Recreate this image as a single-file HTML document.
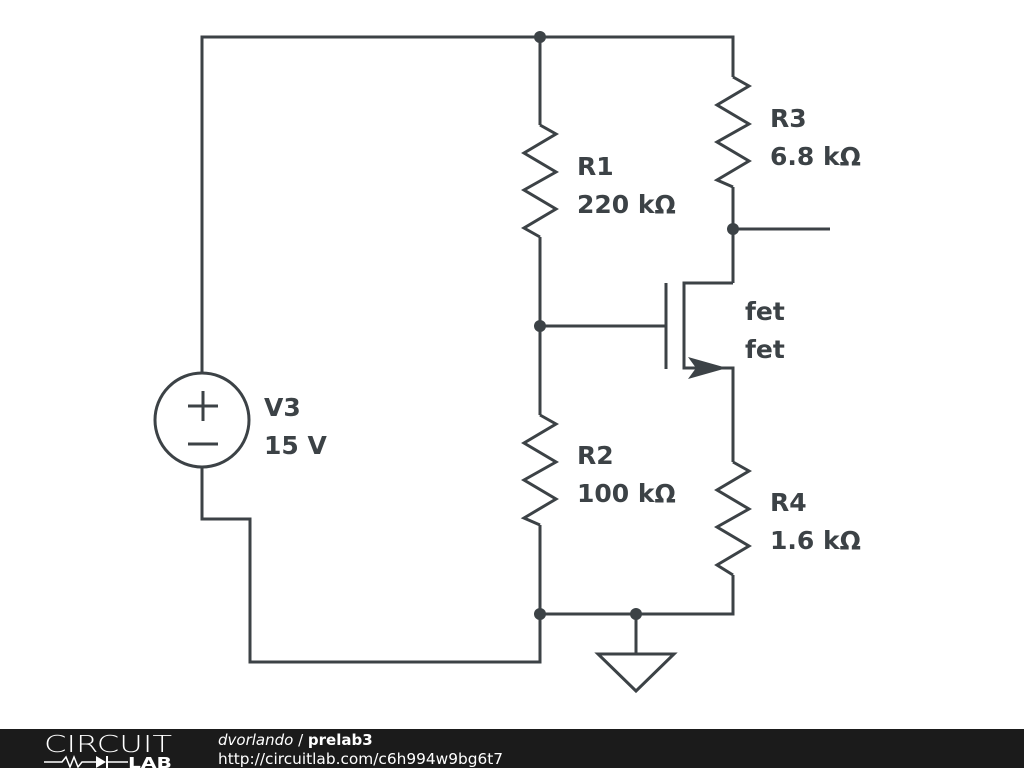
<!DOCTYPE html>
<html><head><style>
body{margin:0;width:1024px;height:768px;background:#fff;overflow:hidden;position:relative;font-family:"DejaVu Sans",sans-serif}
.l{position:absolute;font-weight:bold;font-size:25px;color:#3c4246;line-height:38px;font-family:"DejaVu Sans",sans-serif}
</style></head><body>
<svg width="1024" height="768" style="position:absolute;left:0;top:0">
<g stroke="#3c4246" stroke-width="3" fill="none" stroke-linejoin="miter">
<polyline points="202,373 202,37 733,37 733,77"/>
<polyline points="202,467 202,519 250,519 250,662 540,662 540,525"/>
<line x1="540" y1="37" x2="540" y2="125"/>
<polyline points="540,125 556,134 524,153 556,172 524,190 556,209 524,228 540,237"/>
<line x1="540" y1="237" x2="540" y2="415"/>
<polyline points="540,415 556,424 524,443 556,462 524,480 556,499 524,518 540,525"/>
<polyline points="733,77 749,86 717,105 749,124 717,142 749,161 717,180 733,187"/>
<line x1="733" y1="187" x2="733" y2="283"/>
<line x1="733" y1="229" x2="830" y2="229"/>
<polyline points="733,283 684,283 684,368 733,368 733,462"/>
<line x1="666" y1="283" x2="666" y2="369"/>
<line x1="540" y1="326" x2="666" y2="326"/>
<polyline points="733,462 749,471 717,490 749,509 717,527 749,546 717,565 733,575"/>
<polyline points="733,575 733,614 540,614"/>
<line x1="636" y1="614" x2="636" y2="654"/>
<polygon points="598,654 674,654 636,691"/>
<circle cx="202" cy="420" r="47"/>
<line x1="188" y1="406" x2="218" y2="406"/><line x1="203" y1="391" x2="203" y2="421"/>
<line x1="188" y1="444" x2="218" y2="444"/>
</g>
<polygon points="688,357 727,368 688,379 696,368" fill="#3c4246"/>
<g fill="#3c4246"><circle cx="540" cy="37" r="6"/><circle cx="540" cy="326" r="6"/><circle cx="733" cy="229" r="6"/><circle cx="540" cy="614" r="6"/><circle cx="636" cy="614" r="6"/></g>
<rect x="0" y="729" width="1024" height="39" fill="#1b1b1b"/>
<text x="44" y="752" fill="#fff" font-family="DejaVu Sans" font-weight="200" font-size="23" textLength="128" lengthAdjust="spacingAndGlyphs">CIRCUIT</text>
<polyline points="44,762 62,762 66,757 70,767 74,757 78,767 82,762 96,762" stroke="#fff" stroke-width="1.5" fill="none"/>
<polygon points="96,756 96,768 106,762" fill="#fff"/><line x1="107" y1="756" x2="107" y2="768" stroke="#fff" stroke-width="2"/>
<line x1="107" y1="762" x2="128" y2="762" stroke="#fff" stroke-width="1.5"/>
<text x="128" y="768" fill="#fff" font-family="DejaVu Sans" font-weight="bold" font-size="15" textLength="44" lengthAdjust="spacingAndGlyphs">LAB</text>
<text x="218" y="745" fill="#fff" font-family="DejaVu Sans" font-size="15"><tspan font-style="italic">dvorlando</tspan> / <tspan font-weight="bold">prelab3</tspan></text>
<text x="218" y="764" fill="#fff" font-family="DejaVu Sans" font-size="15" textLength="285" lengthAdjust="spacingAndGlyphs">http://circuitlab.com/c6h994w9bg6t7</text>
</svg>
<div class="l" style="left:577px;top:148px">R1<br>220 kΩ</div>
<div class="l" style="left:770px;top:100px">R3<br>6.8 kΩ</div>
<div class="l" style="left:745px;top:293px">fet<br>fet</div>
<div class="l" style="left:264px;top:389px">V3<br>15 V</div>
<div class="l" style="left:577px;top:437px">R2<br>100 kΩ</div>
<div class="l" style="left:770px;top:484px">R4<br>1.6 kΩ</div>
</body></html>
